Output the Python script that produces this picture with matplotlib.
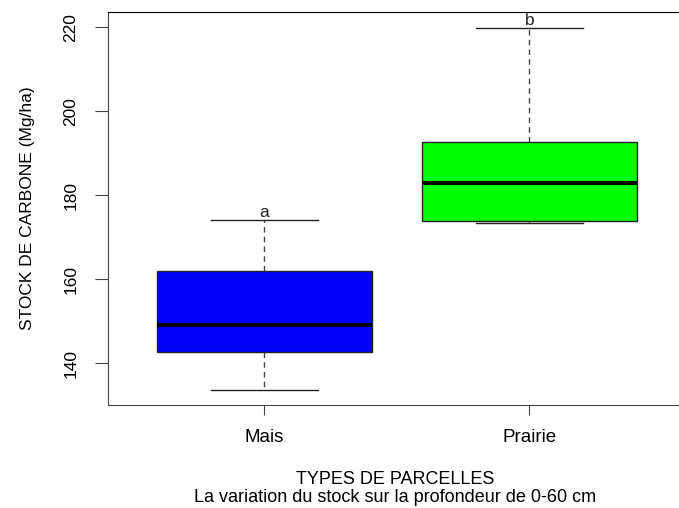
import matplotlib
matplotlib.use("Agg")
import matplotlib.pyplot as plt

plt.rcParams["font.family"] = ["Liberation Sans", "DejaVu Sans"]

# values (Mg/ha)
categories = ["Mais", "Prairie"]
whis_low = [133.6, 173.3]
q1 = [142.6, 173.8]
medians = [149.0, 182.9]
q3 = [161.9, 192.6]
whis_high = [174.0, 219.9]
letters = ["a", "b"]
box_colors = ["#0000FF", "#00FF00"]
y_ticks = [140, 160, 180, 200, 220]

stats = []
for i, name in enumerate(categories):
    stats.append({
        "label": name, "whislo": whis_low[i], "q1": q1[i], "med": medians[i],
        "q3": q3[i], "whishi": whis_high[i], "fliers": [],
    })

fig = plt.figure(figsize=(6.79, 5.08), dpi=100)
ax = fig.add_axes([108 / 679, 1 - 405 / 508, 1 - 108 / 679, (405 - 12) / 508])

bp = ax.bxp(stats, positions=[1, 2], widths=0.81, patch_artist=True,
            showfliers=False,
            boxprops=dict(edgecolor="#222222", linewidth=1.0),
            medianprops=dict(color="black", linewidth=2.8),
            whiskerprops=dict(color="#444444", linestyle=(0, (4, 3)), linewidth=1.0),
            capprops=dict(color="#222222", linewidth=1.0),
            capwidths=0.405)
for patch, c in zip(bp["boxes"], box_colors):
    patch.set_facecolor(c)

for i, txt in enumerate(letters):
    ax.annotate(txt, (i + 1, whis_high[i]), xytext=(0, 0), textcoords="offset points",
                ha="center", va="bottom", fontsize=12.5, color="#222222")

ax.set_xlim(0.41, 2.565)
ax.set_ylim(130.0, 223.6)
ax.set_yticks(y_ticks)
ax.set_yticklabels([str(v) for v in y_ticks], rotation=90, va="center")
ax.set_xticks([1, 2])
ax.set_xticklabels(categories)
ax.tick_params(axis="both", direction="out", width=0.8, color="#444444")
ax.tick_params(axis="y", length=9.5, pad=12, labelsize=12.5)
ax.tick_params(axis="x", length=7.5, pad=10, labelsize=13.5)

for s in ["left", "bottom"]:
    ax.spines[s].set_color("#444444")
ax.spines["top"].set_color("black")
ax.spines["right"].set_visible(False)

ax.set_ylabel("STOCK DE CARBONE (Mg/ha)", fontsize=12.5, labelpad=20)
fig.text(395 / 679, 1 - 479 / 508, "TYPES DE PARCELLES", ha="center", va="center", fontsize=13)
fig.text(395 / 679, 1 - 498 / 508, "La variation du stock sur la profondeur de 0-60 cm",
         ha="center", va="center", fontsize=13)

fig.savefig("out.png", dpi=100)
